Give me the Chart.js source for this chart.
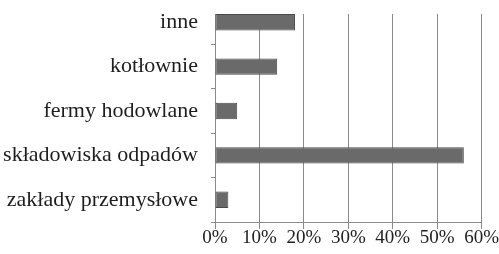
<!DOCTYPE html>
<html>
<head>
<meta charset="utf-8">
<script src="https://cdn.jsdelivr.net/npm/chart.js@4/dist/chart.umd.min.js"></script>
<style>
html,body{margin:0;padding:0;background:#fff;}
#wrap{width:499px;height:254px;}
</style>
</head>
<body>
<div id="wrap"><canvas id="c" width="499" height="254"></canvas></div>
<script>
const categories = ["inne", "kotłownie", "fermy hodowlane", "składowiska odpadów", "zakłady przemysłowe"];
const values = [18, 14, 5, 56, 3];
const xTicks = [0, 10, 20, 30, 40, 50, 60];

const coverTop = {
  id: 'coverTop',
  beforeDatasetsDraw(chart) {
    const meta = chart.getDatasetMeta(0);
    const bar = meta.data[0];
    if (!bar) return;
    const top = bar.y - bar.height / 2;
    const ctx = chart.ctx;
    ctx.save();
    ctx.fillStyle = '#fff';
    ctx.fillRect(chart.chartArea.left - 8, 0, chart.chartArea.right - chart.chartArea.left + 10, top);
    ctx.restore();
  }
};

new Chart(document.getElementById('c'), {
  type: 'bar',
  data: {
    labels: categories,
    datasets: [{
      data: values,
      backgroundColor: '#6a6a6a',
      borderColor: '#4a4a4a',
      borderWidth: 1,
      borderSkipped: false,
      categoryPercentage: 1,
      barPercentage: 0.37
    }]
  },
  options: {
    indexAxis: 'y',
    responsive: false,
    animation: false,
    devicePixelRatio: 1,
    layout: { padding: { top: 0, bottom: 6, left: 0, right: 0 } },
    plugins: { legend: { display: false }, tooltip: { enabled: false } },
    scales: {
      x: {
        min: 0, max: 60,
        afterBuildTicks(scale) { scale.ticks = xTicks.map(v => ({ value: v })); },
        ticks: {
          callback: v => v + '%',
          font: { family: '"Liberation Serif", "Times New Roman", serif', size: 19, lineHeight: 1.0 },
          color: '#222',
          padding: 0,
          maxRotation: 0
        },
        grid: { color: '#8a8a8a', lineWidth: 1, tickLength: 7, tickColor: '#8a8a8a' },
        border: { color: '#8a8a8a', width: 1 }
      },
      y: {
        afterFit(scale) { scale.width = 215; scale.paddingTop = 0; scale.paddingBottom = 0; },
        ticks: {
          font: { family: '"Liberation Serif", "Times New Roman", serif', size: 22 },
          color: '#1e1e1e',
          padding: 13
        },
        grid: { offset: true, drawOnChartArea: false, tickLength: 4, color: '#8a8a8a' },
        border: { color: '#8a8a8a', width: 1 }
      }
    }
  },
  plugins: [coverTop]
});
</script>
</body>
</html>
